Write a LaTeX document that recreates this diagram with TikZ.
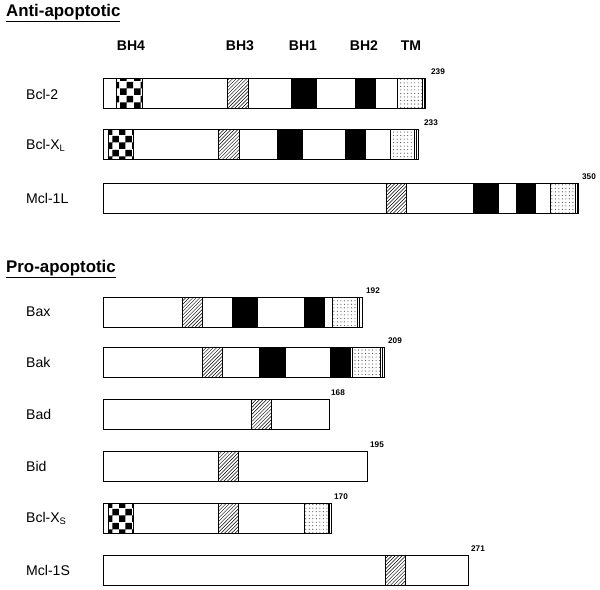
\documentclass[tikz,border=0pt]{standalone}
\usepackage{fontspec}
\setmainfont{Liberation Sans}
\usetikzlibrary{patterns, positioning}

\newcommand{\domain}[4]{% style, y top, x left, x right
  \draw[#1] (#3,#2) rectangle (#4,#2+30);
}

\begin{document}
\begin{tikzpicture}[x=0.03cm, y=-0.03cm,
    hdr/.style={font=\Large\bfseries, anchor=north west},
    pname/.style={font=\large, anchor=west},
    plen/.style={font=\scriptsize\bfseries, anchor=south west},
    bh4/.style={pattern=checkerboard, pattern color=black},
    bh3/.style={pattern=north east lines},
    bhb/.style={fill=black},
    tm/.style={pattern=dots, pattern color=black!70}]
  \useasboundingbox (0,0) rectangle (600,589);

  % headings
  \node[hdr] (anti) at (2,0) {\underline{Anti-apoptotic}};
  \node[hdr] (pro) at (2,256) {\underline{Pro-apoptotic}};
  \node[font=\large\bfseries] (hBH4) at (131,46) {BH4};
  \node[font=\large\bfseries] (hBH3) at (240,46) {BH3};
  \node[font=\large\bfseries] (hBH1) at (303,46) {BH1};
  \node[font=\large\bfseries] (hBH2) at (364,46) {BH2};
  \node[font=\large\bfseries] (hTM) at (411,46) {TM};

  % Bcl-2
  \node[pname] (nBcl2) at (22,94) {Bcl-2};
  \domain{bh4}{78}{116}{142}
  \domain{bh3}{78}{227}{248}
  \domain{bhb}{78}{291}{316}
  \domain{bhb}{78}{355}{375}
  \domain{tm}{78}{397}{422}
  \draw (424,78) -- (424,108);
  \draw (103,78) rectangle (425,108);
  \node[plen] (lBcl2) at (427,79) {239};

  % Bcl-XL
  \node[pname] (nBclXL) at (22,145) {Bcl-X\textsubscript{L}};
  \domain{bh4}{129}{108}{133}
  \domain{bh3}{129}{218}{239}
  \domain{bhb}{129}{277}{302}
  \domain{bhb}{129}{345}{365}
  \domain{tm}{129}{390}{414}
  \draw (416,129) -- (416,159);
  \draw (103,129) rectangle (418,159);
  \node[plen] (lBclXL) at (420,130) {233};

  % Mcl-1L
  \node[pname] (nMcl1L) at (22,198) {Mcl-1L};
  \domain{bh3}{183}{386}{406}
  \domain{bhb}{183}{473}{498}
  \domain{bhb}{183}{516}{535}
  \domain{tm}{183}{550}{575}
  \draw (577,183) -- (577,213);
  \draw (103,183) rectangle (578,213);
  \node[plen] (lMcl1L) at (578,184) {350};

  % Bax
  \node[pname] (nBax) at (22,312) {Bax};
  \domain{bh3}{297}{182}{202}
  \domain{bhb}{297}{232}{257}
  \domain{bhb}{297}{304}{324}
  \domain{tm}{297}{332}{357}
  \draw (359,297) -- (359,327);
  \draw (103,297) rectangle (362,327);
  \node[plen] (lBax) at (362,298) {192};

  % Bak
  \node[pname] (nBak) at (22,362) {Bak};
  \domain{bh3}{347}{202}{222}
  \domain{bhb}{347}{259}{285}
  \domain{bhb}{347}{330}{350}
  \domain{tm}{347}{352}{380}
  \draw (382,347) -- (382,377);
  \draw (103,347) rectangle (384,377);
  \node[plen] (lBak) at (384,348) {209};

  % Bad
  \node[pname] (nBad) at (22,414) {Bad};
  \domain{bh3}{399}{251}{271}
  \draw (103,399) rectangle (329,429);
  \node[plen] (lBad) at (327,400) {168};

  % Bid
  \node[pname] (nBid) at (22,466) {Bid};
  \domain{bh3}{451}{218}{238}
  \draw (103,451) rectangle (367,481);
  \node[plen] (lBid) at (366,452) {195};

  % Bcl-XS
  \node[pname] (nBclXS) at (22,518) {Bcl-X\textsubscript{S}};
  \domain{bh4}{503}{108}{133}
  \domain{bh3}{503}{218}{238}
  \domain{tm}{503}{304}{328}
  \draw (329,503) -- (329,533);
  \draw (103,503) rectangle (331,533);
  \node[plen] (lBclXS) at (330,504) {170};

  % Mcl-1S
  \node[pname] (nMcl1S) at (22,570) {Mcl-1S};
  \domain{bh3}{555}{385}{405}
  \draw (103,555) rectangle (468,585);
  \node[plen] (lMcl1S) at (467,556) {271};
\end{tikzpicture}
\end{document}
